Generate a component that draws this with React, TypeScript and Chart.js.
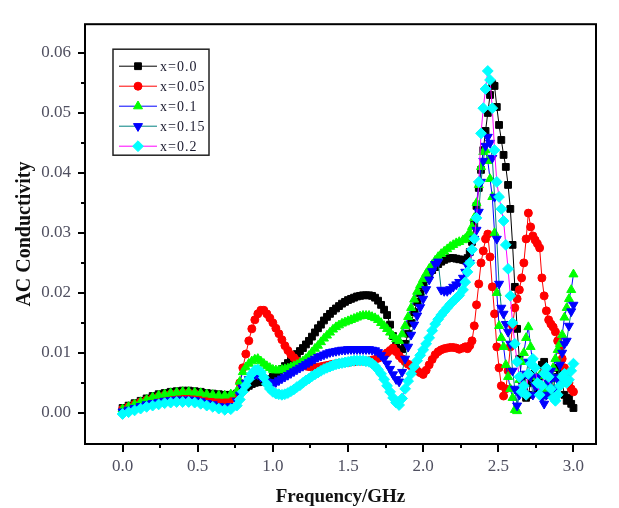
import React, { useEffect, useRef } from 'react';
import { Chart, registerables } from 'chart.js';
import { drawPoint } from 'chart.js/helpers';

Chart.register(...registerables);

const FREQ = [
  0, 0.04, 0.08, 0.12, 0.16, 0.2, 0.24, 0.28, 0.32, 0.36, 0.4, 0.44, 0.48, 0.52, 0.56, 0.6, 0.64, 0.68, 0.72,
  0.76, 0.78, 0.8, 0.82, 0.84, 0.86, 0.88, 0.9, 0.92, 0.94,
  0.96, 0.98, 1.0, 1.02, 1.04, 1.06, 1.08, 1.1, 1.12, 1.14,
  1.16, 1.18, 1.2, 1.22, 1.24, 1.26, 1.28, 1.3, 1.32, 1.34,
  1.36, 1.38, 1.4, 1.42, 1.44, 1.46, 1.48, 1.5, 1.52, 1.54,
  1.56, 1.58, 1.6, 1.62, 1.64, 1.66, 1.68, 1.7, 1.72, 1.74,
  1.76, 1.78, 1.8, 1.82, 1.84, 1.86, 1.88, 1.9, 1.92, 1.94,
  1.96, 1.98, 2.0, 2.02, 2.04, 2.06, 2.08, 2.1, 2.12, 2.14,
  2.16, 2.18, 2.2, 2.22, 2.24,
  2.265, 2.28, 2.295, 2.31, 2.325, 2.34, 2.355, 2.37, 2.385, 2.4,
  2.415, 2.43, 2.445, 2.46, 2.475, 2.49, 2.505, 2.52, 2.535, 2.55,
  2.565, 2.58, 2.595, 2.61, 2.625, 2.64, 2.655, 2.67, 2.685, 2.7,
  2.715, 2.73, 2.745, 2.76, 2.775, 2.79, 2.805, 2.82, 2.835, 2.85,
  2.865, 2.88, 2.895, 2.91, 2.925, 2.94, 2.955, 2.97, 2.985, 3.0,
];

const S_X000 = [
  0.0008, 0.0012, 0.0016, 0.002, 0.0024, 0.0028, 0.0031, 0.0033, 0.0035, 0.0036, 0.0037, 0.0037, 0.0036, 0.0035, 0.0033, 0.0032, 0.0031, 0.003, 0.003,
  0.0032, 0.0035, 0.0038, 0.0042, 0.0045, 0.0048, 0.005, 0.0051, 0.0052, 0.0052,
  0.0054, 0.0056, 0.006, 0.0064, 0.0068, 0.0073, 0.0078, 0.0083, 0.0088, 0.0093,
  0.0098, 0.0103, 0.0108, 0.0114, 0.012, 0.0127, 0.0134, 0.0141, 0.0147, 0.0154,
  0.016, 0.0165, 0.017, 0.0174, 0.0178, 0.0182, 0.0185, 0.0188, 0.019, 0.0192,
  0.0194, 0.0195, 0.0196, 0.0196, 0.0196, 0.0195, 0.0192, 0.0187, 0.018, 0.0172,
  0.0163, 0.0147, 0.0128, 0.0112, 0.0104, 0.0106, 0.0115, 0.0132, 0.015, 0.0168,
  0.0185, 0.0199, 0.0212, 0.0223, 0.0232, 0.0238, 0.0243, 0.0248, 0.0252, 0.0255,
  0.0257, 0.0258, 0.0258, 0.0257, 0.0256,
  0.0255, 0.0254, 0.0258, 0.0268, 0.0285, 0.0315, 0.0345, 0.0375, 0.0405, 0.0438,
  0.047, 0.05, 0.053, 0.0548, 0.0545, 0.051, 0.048, 0.0455, 0.043, 0.041,
  0.038, 0.034, 0.028, 0.021, 0.014, 0.009, 0.0055, 0.0035, 0.0025, 0.003,
  0.005, 0.0065, 0.0055, 0.004, 0.006, 0.008, 0.0085, 0.007, 0.005, 0.003,
  0.004, 0.006, 0.0075, 0.007, 0.005, 0.003, 0.002, 0.0025, 0.0015, 0.0008,
];

const S_X005 = [
  0.0006, 0.001, 0.0014, 0.0018, 0.0021, 0.0024, 0.0027, 0.0029, 0.0031, 0.0032, 0.0033, 0.0033, 0.0032, 0.003, 0.0027, 0.0024, 0.0021, 0.002, 0.0023,
  0.003, 0.005, 0.0075, 0.0098, 0.012, 0.014, 0.0155, 0.0165, 0.0171, 0.0171,
  0.0165, 0.0158, 0.015, 0.0141, 0.0132, 0.0122, 0.0112, 0.0104, 0.0097, 0.0092,
  0.0087, 0.0083, 0.008, 0.0078, 0.0077, 0.0076, 0.0076, 0.0076, 0.0077, 0.0078,
  0.0079, 0.008, 0.0081, 0.0082, 0.0083, 0.0083, 0.0084, 0.0084, 0.0085, 0.0085,
  0.0086, 0.0086, 0.0086, 0.0086, 0.0087, 0.0088, 0.0089, 0.0091, 0.0093, 0.0096,
  0.01, 0.0104, 0.0108, 0.0102, 0.0095, 0.009, 0.0085, 0.0081, 0.0078, 0.0074,
  0.007, 0.0067, 0.0064, 0.0071, 0.008, 0.0089, 0.0097, 0.0102, 0.0105, 0.0107,
  0.0108, 0.0109, 0.0109, 0.0108, 0.0106,
  0.0108, 0.011, 0.0107, 0.0112, 0.012, 0.0145, 0.018, 0.0215, 0.025, 0.027,
  0.029, 0.0298, 0.026, 0.021, 0.0165, 0.011, 0.0075, 0.0045, 0.0028, 0.004,
  0.007, 0.011, 0.0145, 0.0175, 0.019, 0.0205, 0.0225, 0.025, 0.029, 0.0333,
  0.031, 0.0295, 0.0288, 0.0282, 0.0275, 0.0225, 0.0195, 0.017, 0.0155, 0.0148,
  0.0143, 0.0135, 0.012, 0.0105, 0.009, 0.0075, 0.006, 0.005, 0.004, 0.0035,
];

const S_X010 = [
  0.0006, 0.001, 0.0014, 0.0018, 0.0022, 0.0026, 0.0029, 0.0031, 0.0033, 0.0034, 0.0035, 0.0035, 0.0034, 0.0033, 0.0031, 0.003, 0.0029, 0.0029, 0.0031,
  0.0036, 0.0052, 0.0068, 0.0076, 0.0082, 0.0086, 0.0089, 0.009, 0.0086, 0.0082,
  0.0078, 0.0075, 0.0072, 0.0071, 0.0071, 0.0072, 0.0073, 0.0074, 0.0076, 0.0078,
  0.008, 0.0083, 0.0086, 0.009, 0.0095, 0.0101, 0.0107, 0.0112, 0.0118, 0.0124,
  0.0129, 0.0134, 0.0139, 0.0143, 0.0146, 0.0149, 0.0151, 0.0153, 0.0155, 0.0157,
  0.0159, 0.0161, 0.0162, 0.0162, 0.0162, 0.016, 0.0158, 0.0155, 0.015, 0.0145,
  0.014, 0.0134, 0.0128, 0.0123, 0.012, 0.0131, 0.0145, 0.016, 0.0175, 0.0189,
  0.0202, 0.0213, 0.0223, 0.0232, 0.024, 0.0247, 0.0254, 0.026, 0.0265, 0.0269,
  0.0273, 0.0277, 0.028, 0.0283, 0.0285,
  0.0288, 0.029, 0.0295, 0.03, 0.031, 0.0325, 0.035, 0.038, 0.041, 0.0435,
  0.0438, 0.042, 0.039, 0.036, 0.03, 0.02, 0.0145, 0.0125, 0.011, 0.008,
  0.006, 0.004, 0.0025, 0.0005, 0.0003, 0.0055, 0.0085, 0.01, 0.0125, 0.0143,
  0.011, 0.008, 0.006, 0.005, 0.0062, 0.0045, 0.003, 0.004, 0.0055, 0.0065,
  0.0075, 0.009, 0.0105, 0.0115, 0.013, 0.0159, 0.0175, 0.019, 0.0205, 0.0231,
];

const S_X015 = [
  0.0002, 0.0005, 0.0008, 0.0011, 0.0014, 0.0016, 0.0018, 0.002, 0.0021, 0.0022, 0.0022, 0.0022, 0.0021, 0.0019, 0.0016, 0.0014, 0.0011, 0.001, 0.0011,
  0.002, 0.003, 0.0042, 0.005, 0.0056, 0.0061, 0.0064, 0.0064, 0.006, 0.0056,
  0.0052, 0.005, 0.0049, 0.0051, 0.0054, 0.0057, 0.006, 0.0063, 0.0066, 0.0069,
  0.0072, 0.0075, 0.0078, 0.0081, 0.0084, 0.0087, 0.009, 0.0093, 0.0095, 0.0097,
  0.0099, 0.0101, 0.0102, 0.0103, 0.0104, 0.0105, 0.0105, 0.0106, 0.0106, 0.0106,
  0.0106, 0.0106, 0.0106, 0.0106, 0.0106, 0.0105, 0.0104, 0.0101, 0.0096, 0.009,
  0.0082, 0.0073, 0.0064, 0.0056, 0.0052, 0.0068, 0.009, 0.011, 0.013, 0.0147,
  0.0162, 0.0176, 0.019, 0.0206, 0.0222, 0.0236, 0.0248, 0.0252, 0.0205, 0.0203,
  0.0203, 0.0206, 0.021, 0.0214, 0.0218,
  0.0225, 0.0235, 0.0245, 0.025, 0.027, 0.029, 0.0305, 0.0335, 0.0385, 0.042,
  0.0445, 0.046, 0.045, 0.0425, 0.036, 0.029, 0.0215, 0.0175, 0.0165, 0.0148,
  0.0135, 0.0115, 0.007, 0.004, 0.0012, 0.003, 0.006, 0.004, 0.0065, 0.0085,
  0.006, 0.003, 0.0045, 0.006, 0.004, 0.0025, 0.0015, 0.003, 0.005, 0.007,
  0.006, 0.004, 0.0055, 0.008, 0.01, 0.0115, 0.012, 0.0145, 0.0169, 0.018,
];

const S_X020 = [
  -0.0002, 0.0001, 0.0004, 0.0007, 0.001, 0.0012, 0.0014, 0.0016, 0.0017, 0.0018, 0.0018, 0.0018, 0.0017, 0.0015, 0.0012, 0.001, 0.0007, 0.0005, 0.0006,
  0.0012, 0.0022, 0.0035, 0.0046, 0.0056, 0.0065, 0.0071, 0.0072, 0.0068, 0.0059,
  0.0048, 0.004, 0.0035, 0.0032, 0.0031, 0.003, 0.0031, 0.0033, 0.0036, 0.0039,
  0.0043, 0.0046, 0.005, 0.0054, 0.0057, 0.0061, 0.0064, 0.0067, 0.007, 0.0073,
  0.0075, 0.0077, 0.0079, 0.0081, 0.0082, 0.0083, 0.0084, 0.0085, 0.0086, 0.0087,
  0.0087, 0.0087, 0.0087, 0.0086, 0.0085, 0.0082, 0.0078, 0.0072, 0.0065, 0.0056,
  0.0045, 0.0035, 0.0025, 0.0017, 0.0013, 0.0024, 0.004, 0.0053, 0.0065, 0.0077,
  0.0087, 0.0096, 0.0105, 0.0115, 0.0125, 0.0137, 0.0148, 0.0156, 0.0163, 0.0169,
  0.0175, 0.0181, 0.0186, 0.0191, 0.0196,
  0.0205, 0.0218, 0.0235, 0.025, 0.0272, 0.029, 0.0325, 0.0385, 0.0466, 0.0508,
  0.054, 0.057, 0.0555, 0.0508, 0.0438, 0.0385, 0.036, 0.034, 0.032, 0.028,
  0.024, 0.0195, 0.015, 0.0115, 0.0085, 0.006, 0.0035, 0.0045, 0.003, 0.0065,
  0.0082, 0.009, 0.0075, 0.005, 0.003, 0.0045, 0.0065, 0.0075, 0.006, 0.004,
  0.0025, 0.002, 0.003, 0.0045, 0.006, 0.0065, 0.005, 0.0055, 0.007, 0.0082,
];

const SERIES_LABELS = ['x=0.0', 'x=0.05', 'x=0.1', 'x=0.15', 'x=0.2'];
const SERIES_VALUES = [S_X000, S_X005, S_X010, S_X015, S_X020];
const LINE_COLORS = ['#000000', '#ff0000', '#0000ff', '#008080', '#ff00ff'];
const MARKER_COLORS = ['#000000', '#ff0000', '#00ff00', '#0000ff', '#00ffff'];
const MARKER_STYLES = ['rect', 'circle', 'triangle', 'triangle', 'rectRot'];
const MARKER_ROTATION = [0, 0, 0, 180, 0];
const MARKER_RADIUS = [4.8, 4, 5.2, 5.2, 5.4];

const X_TICKS = [0, 0.5, 1.0, 1.5, 2.0, 2.5, 3.0];
const Y_TICKS = [0, 0.01, 0.02, 0.03, 0.04, 0.05, 0.06];

const SERIF = '"Liberation Serif", "Times New Roman", Times, serif';

const framePlugin = {
  id: 'frameAndLegend',
  afterDraw(chart: any) {
    const { ctx, chartArea: a, scales } = chart;
    const xs = scales.x;
    const ys = scales.y;
    ctx.save();
    ctx.strokeStyle = '#000';
    ctx.lineWidth = 2;
    ctx.strokeRect(a.left, a.top, a.right - a.left, a.bottom - a.top);
    ctx.beginPath();
    X_TICKS.forEach((v) => {
      const p = Math.round(xs.getPixelForValue(v));
      ctx.moveTo(p, a.bottom);
      ctx.lineTo(p, a.bottom + 8);
    });
    for (let i = 0; i < X_TICKS.length - 1; i++) {
      const p = Math.round(xs.getPixelForValue((X_TICKS[i] + X_TICKS[i + 1]) / 2));
      ctx.moveTo(p, a.bottom);
      ctx.lineTo(p, a.bottom + 4);
    }
    Y_TICKS.forEach((v) => {
      const p = Math.round(ys.getPixelForValue(v));
      ctx.moveTo(a.left, p);
      ctx.lineTo(a.left - 7, p);
    });
    for (let i = 0; i < Y_TICKS.length - 1; i++) {
      const p = Math.round(ys.getPixelForValue((Y_TICKS[i] + Y_TICKS[i + 1]) / 2));
      ctx.moveTo(a.left, p);
      ctx.lineTo(a.left - 4, p);
    }
    ctx.stroke();

    // legend
    const lx = a.left + 28;
    const ly = a.top + 25;
    const lw = 96;
    const lh = 106;
    ctx.fillStyle = '#ffffff';
    ctx.fillRect(lx, ly, lw, lh);
    ctx.lineWidth = 1.5;
    ctx.strokeStyle = '#222';
    ctx.strokeRect(lx, ly, lw, lh);
    ctx.font = `14px ${SERIF}`;
    ctx.textBaseline = 'middle';
    ctx.textAlign = 'left';
    try { (ctx as any).letterSpacing = '1px'; } catch (e) {}
    chart.data.datasets.forEach((ds: any, i: number) => {
      const y = ly + 17 + i * 20;
      ctx.strokeStyle = ds.borderColor;
      ctx.lineWidth = 1;
      ctx.beginPath();
      ctx.moveTo(lx + 6, y);
      ctx.lineTo(lx + 44, y);
      ctx.stroke();
      ctx.fillStyle = ds.pointBackgroundColor;
      ctx.strokeStyle = ds.pointBorderColor;
      drawPoint(ctx, { pointStyle: ds.pointStyle, rotation: ds.pointRotation, radius: ds.pointRadius, borderWidth: 1 }, lx + 25, y);
      ctx.fillStyle = '#1a1a2e';
      ctx.fillText(ds.label, lx + 47, y + 1);
    });
    ctx.restore();
  },
};

export default function App() {
  const ref = useRef<HTMLCanvasElement | null>(null);
  useEffect(() => {
    if (!ref.current) return;
    const datasets = SERIES_LABELS.map((label, i) => ({
      label,
      data: FREQ.map((f, j) => ({ x: f, y: SERIES_VALUES[i][j] })),
      borderColor: LINE_COLORS[i],
      borderWidth: 1,
      pointBackgroundColor: MARKER_COLORS[i],
      pointBorderColor: MARKER_COLORS[i],
      pointBorderWidth: 1,
      pointStyle: MARKER_STYLES[i],
      pointRotation: MARKER_ROTATION[i],
      pointRadius: MARKER_RADIUS[i],
      pointHoverRadius: MARKER_RADIUS[i],
      tension: 0,
      fill: false,
      order: SERIES_LABELS.length - i,
    }));
    const chart = new Chart(ref.current, {
      type: 'line',
      data: { datasets },
      options: {
        responsive: false,
        animation: false,
        events: [],
        layout: { padding: { left: 0, top: 10, right: 23, bottom: 0 } },
        plugins: { legend: { display: false }, tooltip: { enabled: false } },
        scales: {
          x: {
            type: 'linear',
            min: -0.25,
            max: 3.15,
            afterFit: (s: any) => { s.height = 64; },
            afterBuildTicks: (s: any) => { s.ticks = X_TICKS.map((value) => ({ value })); },
            grid: { display: false, drawTicks: false, tickLength: 0 },
            border: { display: false },
            ticks: {
              padding: 12,
              color: '#505060',
              font: { family: SERIF, size: 17 },
              maxRotation: 0,
              autoSkip: false,
              callback: (v: any) => Number(v).toFixed(1),
            },
            title: {
              display: true,
              text: 'Frequency/GHz',
              color: '#111',
              font: { family: SERIF, size: 19, weight: 'bold' },
              padding: { top: 0, bottom: 0 },
            },
          },
          y: {
            type: 'linear',
            min: -0.0052,
            max: 0.0648,
            afterFit: (s: any) => { s.width = 85; },
            afterBuildTicks: (s: any) => { s.ticks = Y_TICKS.map((value) => ({ value })); },
            grid: { display: false, drawTicks: false, tickLength: 0 },
            border: { display: false },
            ticks: {
              padding: 14,
              color: '#505060',
              font: { family: SERIF, size: 17 },
              autoSkip: false,
              callback: (v: any) => Number(v).toFixed(2),
            },
            title: {
              display: true,
              text: 'AC Conductivity',
              color: '#111',
              font: { family: SERIF, size: 20, weight: 'bold' },
              padding: { top: 13, bottom: 0 },
            },
          },
        },
      },
      plugins: [framePlugin],
    });
    return () => chart.destroy();
  }, []);
  return (
    <div style={{ position: 'absolute', left: 0, top: 0, width: 619, height: 508, background: '#fff' }}>
      <canvas ref={ref} width={619} height={508} style={{ display: 'block' }} />
    </div>
  );
}
